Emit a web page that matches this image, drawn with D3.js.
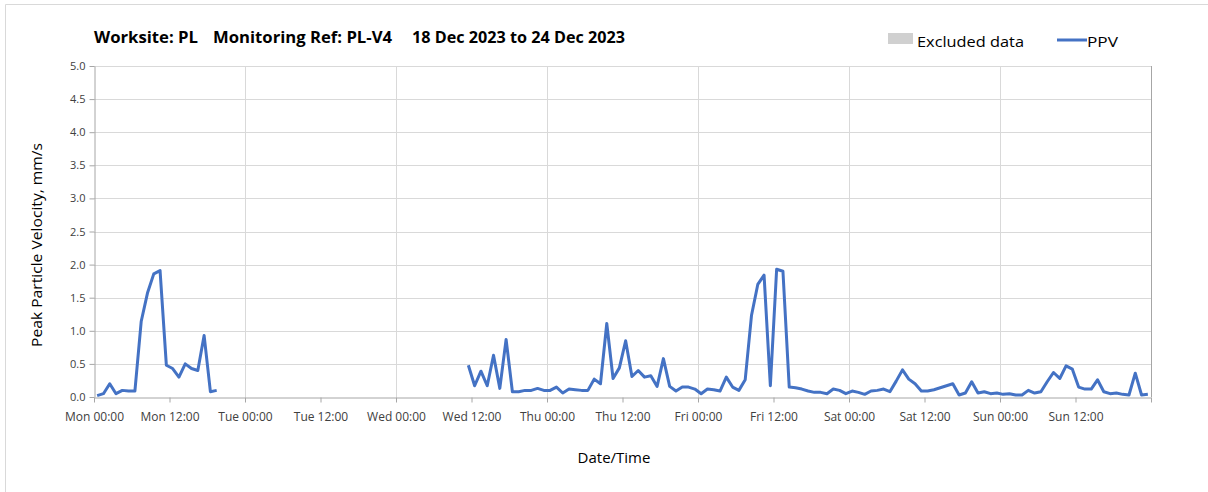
<!DOCTYPE html>
<html>
<head>
<meta charset="utf-8">
<script src="https://cdn.jsdelivr.net/npm/d3@7"></script>
<style>
  html, body { margin: 0; padding: 0; background: #fff; }
  svg { display: block; }
  text { font-family: "Open Sans", "Noto Sans", sans-serif; }
</style>
</head>
<body>
<svg id="chart" width="1208" height="492"></svg>
<script>
// ---------------- data ----------------
const titleParts = ["Worksite: PL", "Monitoring Ref: PL-V4", "18 Dec 2023 to 24 Dec 2023"];
const legendLabels = ["Excluded data", "PPV"];
const yTitle = "Peak Particle Velocity, mm/s";
const xTitle = "Date/Time";

const axisStart = "2023-12-18T00:00";
const axisEnd = "2023-12-25T00:00";
const yTicks = [0, 0.5, 1.0, 1.5, 2.0, 2.5, 3.0, 3.5, 4.0, 4.5, 5.0];

// hourly PPV readings, segment 1 (Mon 00:30 onward)
const seg1Start = "2023-12-18T00:30";
const seg1Values = [0.02,0.05,0.2,0.05,0.1,0.09,0.09,1.14,1.57,1.86,1.91,0.48,0.43,0.3,0.5,0.43,0.4,0.93,0.08,0.1];

// hourly PPV readings, segment 2 (Wed 11:30 onward)
const seg2Start = "2023-12-20T11:30";
const seg2Values = [
  0.48,0.17,0.39,0.17,0.63,0.13,0.87,0.08,0.08,0.1,0.1,0.13,0.1,0.1,0.15,0.06,0.12,0.11,0.1,0.1,
  0.27,0.2,1.11,0.28,0.44,0.85,0.31,0.4,0.3,0.32,0.16,0.58,0.16,0.09,0.15,0.15,0.12,
  0.05,0.12,0.11,0.09,0.3,0.15,0.1,0.26,1.23,1.7,1.84,0.17,1.93,1.9,0.15,0.14,0.12,0.09,0.07,0.07,0.05,0.12,0.1,0.05,
  0.09,0.07,0.04,0.09,0.1,0.12,0.08,0.24,0.41,0.27,0.2,0.09,0.09,0.11,0.14,0.17,0.2,0.03,0.06,0.23,0.06,0.08,0.05,0.06,
  0.04,0.05,0.03,0.03,0.1,0.06,0.08,0.23,0.37,0.28,0.47,0.42,0.15,0.12,0.12,0.26,0.08,0.05,0.06,0.04,0.03,0.36,0.03,0.04
];

// ---------------- chart ----------------
const svg = d3.select("#chart");
const parse = d3.timeParse("%Y-%m-%dT%H:%M");
const margin = { left: 94, right: 1151, top: 66, bottom: 397 };

const x = d3.scaleTime().domain([parse(axisStart), parse(axisEnd)]).range([margin.left, margin.right]);
const y = d3.scaleLinear().domain([0, 5]).range([margin.bottom, margin.top]);

function toSeries(start, values) {
  const t0 = parse(start);
  return values.map((v, i) => ({ t: d3.timeHour.offset(t0, i), v }));
}
const segments = [toSeries(seg1Start, seg1Values), toSeries(seg2Start, seg2Values)];

// outer frame (top and left visible)
svg.append("line").attr("x1", 5.5).attr("x2", 1208).attr("y1", 4.5).attr("y2", 4.5).attr("stroke", "#d9d9d9");
svg.append("line").attr("x1", 5.5).attr("x2", 5.5).attr("y1", 4.5).attr("y2", 492).attr("stroke", "#d9d9d9");

// horizontal gridlines
svg.append("g").selectAll("line").data(yTicks.filter(d => d > 0)).join("line")
  .attr("x1", margin.left).attr("x2", margin.right)
  .attr("y1", d => Math.round(y(d)) + 0.5).attr("y2", d => Math.round(y(d)) + 0.5)
  .attr("stroke", "#d9d9d9").attr("stroke-width", 1);

// vertical day gridlines
const dayTicks = d3.timeDay.range(d3.timeDay.offset(parse(axisStart), 1), d3.timeDay.offset(parse(axisEnd), 1));
svg.append("g").selectAll("line").data(dayTicks).join("line")
  .attr("x1", d => Math.round(x(d)) + 0.5).attr("x2", d => Math.round(x(d)) + 0.5)
  .attr("y1", margin.top).attr("y2", margin.bottom)
  .attr("stroke", d => +d === +parse(axisEnd) ? "#a6a6a6" : "#d9d9d9").attr("stroke-width", 1);

// x axis
const xTickVals = d3.timeHour.every(12).range(parse(axisStart), d3.timeHour.offset(parse(axisEnd), 1));
const fmt = d3.timeFormat("%a %H:%M");
const xAxis = d3.axisBottom(x).tickValues(xTickVals)
  .tickFormat(d => +d === +parse(axisEnd) ? "" : fmt(d)).tickSize(5).tickSizeOuter(0);
const gx = svg.append("g").attr("transform", `translate(0,${margin.bottom + 0.5})`).call(xAxis);
gx.select(".domain").attr("stroke", "#a6a6a6");
gx.selectAll(".tick line").attr("stroke", "#a6a6a6");
gx.selectAll(".tick text").attr("fill", "#404040").attr("font-size", 12)
  .attr("font-family", "'Open Sans', sans-serif").attr("dy", null).attr("y", 23);

// y axis
const yAxis = d3.axisLeft(y).tickValues(yTicks).tickFormat(d3.format(".1f")).tickSize(5).tickSizeOuter(0);
const gy = svg.append("g").attr("transform", `translate(${margin.left + 0.5},0)`).call(yAxis);
gy.select(".domain").attr("stroke", "#a6a6a6");
gy.selectAll(".tick line").attr("stroke", "#a6a6a6");
gy.selectAll(".tick text").attr("fill", "#404040").attr("font-size", 11)
  .attr("font-family", "'Open Sans', sans-serif").attr("x", -9);

// data line
const line = d3.line().x(d => x(d.t)).y(d => y(d.v));
svg.append("g").selectAll("path").data(segments).join("path")
  .attr("d", line).attr("fill", "none").attr("stroke", "#4472C4")
  .attr("stroke-width", 3).attr("stroke-linejoin", "round");

// title
const titleX = [94, 213, 412];
const titleW = [104, 179, 213];
svg.append("g").selectAll("text").data(titleParts).join("text")
  .attr("x", (d, i) => titleX[i]).attr("y", 43)
  .attr("textLength", (d, i) => titleW[i]).attr("lengthAdjust", "spacingAndGlyphs")
  .attr("font-size", 15.5).attr("font-weight", "bold").attr("fill", "#000")
  .text(d => d);

// legend
svg.append("rect").attr("x", 888).attr("y", 33).attr("width", 25).attr("height", 11).attr("fill", "#d0d0d0");
svg.append("text").attr("x", 917).attr("y", 47).attr("font-size", 15).attr("fill", "#000")
  .attr("textLength", 107).attr("lengthAdjust", "spacingAndGlyphs").text(legendLabels[0]);
svg.append("line").attr("x1", 1057).attr("x2", 1087).attr("y1", 40).attr("y2", 40)
  .attr("stroke", "#4472C4").attr("stroke-width", 3);
svg.append("text").attr("x", 1087).attr("y", 47).attr("font-size", 15).attr("fill", "#000")
  .attr("textLength", 31).attr("lengthAdjust", "spacingAndGlyphs").text(legendLabels[1]);

// axis titles
svg.append("text").attr("transform", "translate(42,245) rotate(-90)")
  .attr("text-anchor", "middle").attr("font-size", 15).attr("fill", "#000")
  .attr("textLength", 204).attr("lengthAdjust", "spacingAndGlyphs").text(yTitle);
svg.append("text").attr("x", 614).attr("y", 463).attr("text-anchor", "middle")
  .attr("font-size", 15).attr("fill", "#000").text(xTitle);
</script>
</body>
</html>
